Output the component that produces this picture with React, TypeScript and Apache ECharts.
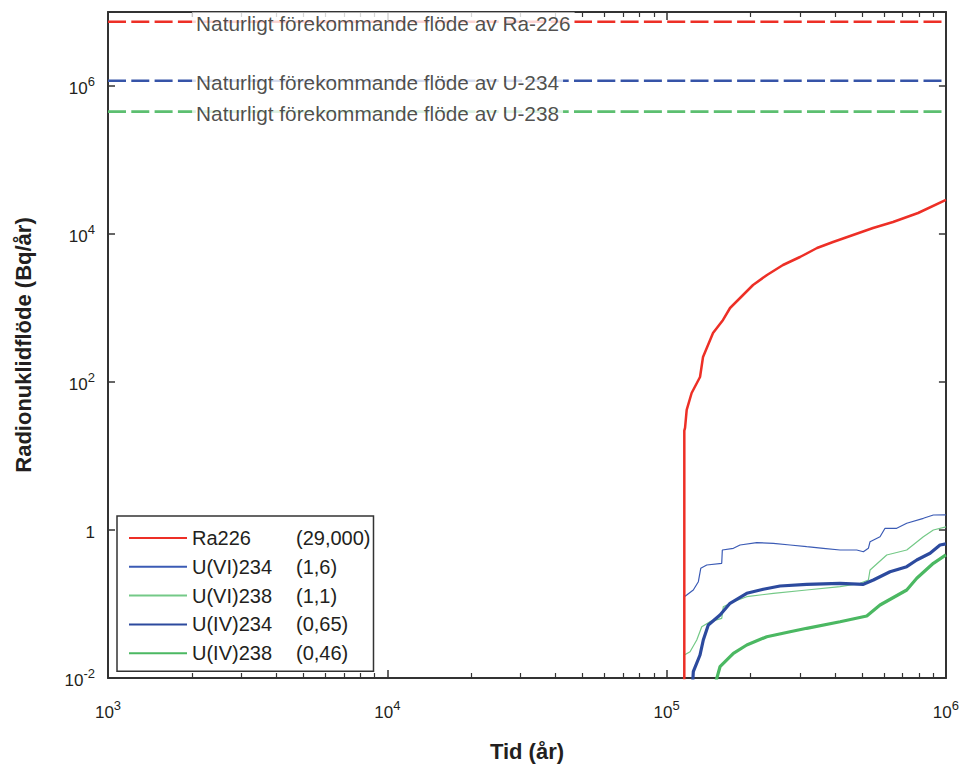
import React, { useEffect, useRef } from 'react';
import * as echarts from 'echarts';

// ---- data (time in years, flux in Bq/year) ----
const seriesNames = ['Ra226', 'U(VI)234', 'U(VI)238', 'U(IV)234', 'U(IV)238'];
const legendNotes = ['(29,000)', '(1,6)', '(1,1)', '(0,65)', '(0,46)'];

const ra226: [number, number][] = [
  [115700, 0.005], [115700, 22], [116400, 24], [118000, 42], [122900, 71], [131700, 117],
  [135000, 218], [146600, 459], [159200, 689], [168700, 1000], [183200, 1365], [203900, 2046],
  [228800, 2794], [261000, 3812], [300300, 4888], [345500, 6470], [394300, 7798], [465000, 9690],
  [548300, 12050], [646500, 14520], [794700, 19220], [1000000, 29000],
];

const uvi234: [number, number][] = [
  [115700, 0.005], [115700, 0.1255], [118000, 0.1323], [124600, 0.1546], [129900, 0.2001],
  [132500, 0.3037], [139200, 0.3365], [157500, 0.3548], [158300, 0.5367], [173400, 0.5658],
  [183200, 0.627], [210200, 0.6735], [241100, 0.6611], [276600, 0.627], [317300, 0.5945],
  [364000, 0.5658], [417700, 0.5367], [479400, 0.5367], [506300, 0.5089], [527600, 0.5658],
  [535000, 0.6948], [580800, 0.8118], [605300, 1.054], [666600, 1.054], [723900, 1.232],
  [830200, 1.439], [901500, 1.595], [1000000, 1.6],
];

const uvi238: [number, number][] = [
  [115700, 0.005], [115700, 0.02046], [121300, 0.02267], [128200, 0.03262], [133600, 0.04933],
  [143000, 0.05765], [157500, 0.06408], [159600, 0.09194], [173400, 0.1074], [193600, 0.1255],
  [241100, 0.1395], [317300, 0.1546], [417700, 0.1713], [492700, 0.1904], [527600, 0.211],
  [535000, 0.2881], [613800, 0.4595], [723900, 0.5367], [830200, 0.8118], [901500, 1.0],
  [1000000, 1.1],
];

const uiv234: [number, number][] = [
  [123000, 0.005], [124600, 0.01216], [131700, 0.02046], [135300, 0.03262], [141000, 0.05201],
  [155300, 0.07102], [168700, 0.1022], [193600, 0.1395], [221900, 0.158], [254700, 0.1751],
  [317300, 0.1846], [417700, 0.1904], [506300, 0.1846], [549800, 0.211], [630800, 0.2732],
  [723900, 0.3192], [786300, 0.3932], [877300, 0.4844], [952600, 0.627], [1000000, 0.65],
];

const uiv238: [number, number][] = [
  [143800, 0.005], [155300, 0.01421], [173400, 0.02158], [193600, 0.02792], [228300, 0.03615],
  [276600, 0.04224], [317300, 0.04694], [417700, 0.05765], [520700, 0.06883], [580800, 0.09694],
  [723900, 0.1546], [786300, 0.2225], [901500, 0.3548], [1000000, 0.46],
];

const seriesData = [ra226, uvi234, uvi238, uiv234, uiv238];

const refNuclides = ['Ra-226', 'U-234', 'U-238'];
const refLevels = [7.4e6, 1.18e6, 4.5e5];
const refLabelTime = 2000;

const xRange = [1e3, 1e6];
const yRange = [1e-2, 1e7];

const xTitle = 'Tid (år)';
const yTitle = 'Radionuklidflöde (Bq/år)';

// ---- styles ----
const FONT = 'Arial, "Liberation Sans", Helvetica, sans-serif';
const TEXT = '#231f20';
const AXIS = '#333333';
const seriesColors = ['#ed2f26', '#3b5bb5', '#74c987', '#2c4a9e', '#4bb862'];
const seriesWidths = [2.5, 1.2, 1.2, 3.2, 3.2];
const refColors = ['#ed2f26', '#3654a8', '#5cbf70'];

const supRich = {
  b: { fontSize: 17, lineHeight: 22, verticalAlign: 'bottom', color: TEXT, fontFamily: FONT },
  s: { fontSize: 13, lineHeight: 13, verticalAlign: 'top', color: TEXT, fontFamily: FONT },
};

function powLabel(v: number): string {
  const e = Math.round(Math.log10(v));
  if (e >= 7) return '';
  if (e === 0) return '{b|1}';
  return `{b|10}{s|${e}}`;
}

export default function App() {
  const ref = useRef<HTMLDivElement>(null);

  useEffect(() => {
    if (!ref.current) return;
    const chart = echarts.init(ref.current, null, { renderer: 'svg' });

    const xCommon = {
      type: 'log',
      logBase: 10,
      min: xRange[0],
      max: xRange[1],
      splitLine: { show: false },
      axisLine: { show: true, onZero: false, lineStyle: { color: AXIS, width: 2 } },
      axisTick: { show: true, inside: true, length: 8, lineStyle: { color: AXIS, width: 1.5 } },
      minorTick: { show: true, splitNumber: 9, length: 5, lineStyle: { color: AXIS, width: 1.2 } },
    };
    const yCommon = {
      type: 'log',
      logBase: 100,
      min: yRange[0],
      max: yRange[1],
      splitLine: { show: false },
      axisLine: { show: true, onZero: false, lineStyle: { color: AXIS, width: 2 } },
      axisTick: { show: true, inside: true, length: 7, lineStyle: { color: AXIS, width: 1.5 } },
    };

    const mainSeries = seriesNames.map((name, i) => ({
      name,
      type: 'line',
      data: seriesData[i],
      symbol: 'none',
      showSymbol: false,
      legendIcon: 'none',
      lineStyle: { color: seriesColors[i], width: seriesWidths[i] },
      itemStyle: { color: seriesColors[i] },
      z: i === 0 ? 5 : 3,
      silent: true,
    }));

    const refSeries = refNuclides.map((nuc, i) => ({
      name: 'ref-' + nuc,
      type: 'line',
      data: [[xRange[0], refLevels[i]], [xRange[1], refLevels[i]]],
      symbol: 'none',
      showSymbol: false,
      lineStyle: { color: refColors[i], width: 2.6, type: [18, 5.3] },
      z: 2,
      silent: true,
    }));

    const labelSeries = {
      name: 'ref-labels',
      type: 'scatter',
      symbolSize: 0,
      silent: true,
      z: 6,
      data: refNuclides.map((nuc, i) => ({
        value: [refLabelTime, refLevels[i]],
        label: {
          show: true,
          position: 'right',
          distance: 0,
          formatter: 'Naturligt förekommande flöde av ' + nuc,
          fontSize: 20.8,
          fontFamily: FONT,
          color: TEXT,
          backgroundColor: '#ffffff',
          padding: [2, 4, 0, 4],
          offset: [0, 2],
        },
      })),
    };

    chart.setOption({
      animation: false,
      backgroundColor: '#ffffff',
      textStyle: { fontFamily: FONT },
      grid: { left: 108, right: 15.5, top: 12, bottom: 89, containLabel: false },
      legend: {
        data: seriesNames,
        orient: 'vertical',
        left: 117,
        top: 516,
        itemWidth: 58,
        itemHeight: 14,
        itemGap: 6.8,
        padding: [11, 3, 7, 11],
        borderColor: AXIS,
        borderWidth: 1.5,
        backgroundColor: '#ffffff',
        selectedMode: false,
        itemStyle: { opacity: 0 },
        formatter: (name: string) => {
          const idx = seriesNames.indexOf(name);
          return `{a|${name}}{b|${legendNotes[idx]}}`;
        },
        textStyle: {
          fontSize: 20,
          lineHeight: 22,
          color: TEXT,
          fontFamily: FONT,
          rich: {
            a: { width: 104, fontSize: 20, lineHeight: 22, color: TEXT, fontFamily: FONT },
            b: { fontSize: 20, lineHeight: 22, color: TEXT, fontFamily: FONT },
          },
        },
      },
      xAxis: [
        {
          ...xCommon,
          position: 'bottom',
          name: xTitle,
          nameLocation: 'middle',
          nameGap: 62,
          nameTextStyle: { fontSize: 22, fontWeight: 'bold', color: TEXT, fontFamily: FONT },
          axisLabel: { margin: 21, formatter: powLabel, rich: supRich, color: TEXT },
        },
        {
          ...xCommon,
          position: 'top',
          axisLabel: { show: false },
        },
      ],
      yAxis: [
        {
          ...yCommon,
          position: 'left',
          name: yTitle,
          nameLocation: 'middle',
          nameGap: 74,
          nameRotate: 90,
          nameTextStyle: { fontSize: 22, fontWeight: 'bold', color: TEXT, fontFamily: FONT },
          axisLabel: { margin: 13, formatter: powLabel, rich: supRich, color: TEXT },
        },
        {
          ...yCommon,
          position: 'right',
          axisLabel: { show: false },
        },
      ],
      series: [...refSeries, ...mainSeries, labelSeries],
    });

    return () => chart.dispose();
  }, []);

  return (
    <div
      ref={ref}
      style={{ position: 'absolute', left: 0, top: 0, width: 962, height: 767, background: '#fff' }}
    />
  );
}
